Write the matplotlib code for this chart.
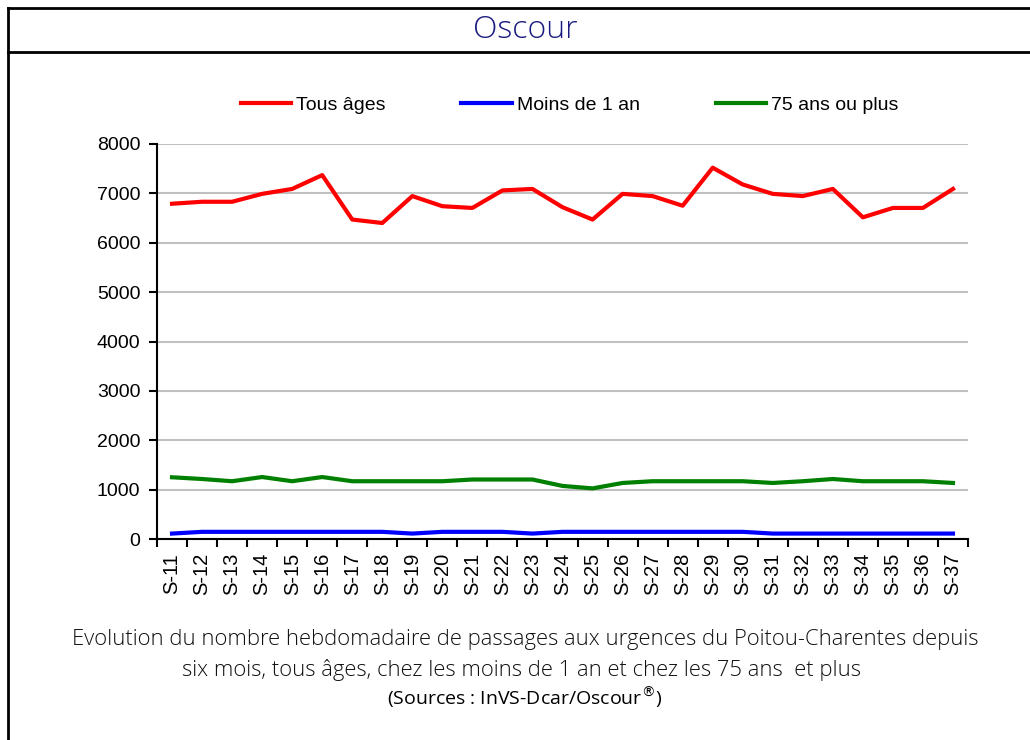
import matplotlib
matplotlib.use("Agg")
import matplotlib.pyplot as plt
from matplotlib.lines import Line2D
import numpy as np

# semaines S-11 .. S-37
semaines = ["S-%d" % s for s in range(11, 38)]

tous_ages = [6790, 6830, 6830, 6990, 7090, 7370, 6470, 6400, 6945, 6740,
             6705, 7060, 7090, 6720, 6470, 6990, 6945, 6750, 7520, 7180,
             6990, 6945, 7090, 6515, 6705, 6705, 7090]
moins_1an = [110, 145, 145, 145, 145, 145, 145, 145, 110, 145,
             145, 145, 110, 145, 145, 145, 145, 145, 145, 145,
             110, 110, 110, 110, 110, 110, 110]
plus_75 = [1250, 1215, 1170, 1255, 1170, 1255, 1170, 1170, 1170, 1170,
           1205, 1205, 1205, 1075, 1025, 1135, 1170, 1170, 1170, 1170,
           1135, 1170, 1215, 1170, 1170, 1170, 1135]

series = [("Tous âges", tous_ages, "#ff0000"),
          ("Moins de 1 an", moins_1an, "#0000ff"),
          ("75 ans ou plus", plus_75, "#008000")]

plt.rcParams['font.family'] = ['Liberation Sans', 'DejaVu Sans']

fig = plt.figure(figsize=(10.3, 7.4), dpi=100)
ax = fig.add_axes([157/1030, 1-539/740, (968-157)/1030, 395/740])

x = np.arange(len(semaines))
handles = []
for nom, vals, col in series:
    h, = ax.plot(x, vals, color=col, lw=3, label=nom, solid_joinstyle='round')
    handles.append(h)

ax.set_ylim(0, 8000)
ax.set_yticks(range(0, 8001, 1000))
ax.set_xlim(-0.5, len(semaines) - 0.5)
ax.set_xticks(x)
ax.set_xticklabels(semaines, rotation=90, fontsize=14.5)
ax.set_xticks(np.arange(-0.5, len(semaines)), minor=True)
ax.tick_params(axis='x', which='major', length=0, pad=10)
ax.tick_params(axis='x', which='minor', length=6, width=1.5, direction='out')
ax.tick_params(axis='y', labelsize=14, length=6, width=1.5, pad=6)
ax.grid(axis='y', color='#c0c0c0', lw=1.5)
ax.set_axisbelow(True)
for s in ['top', 'right']:
    ax.spines[s].set_visible(False)
for s in ['left', 'bottom']:
    ax.spines[s].set_linewidth(1.5)

fig.legend(handles=handles, loc='center', bbox_to_anchor=(0.553, 0.858), ncol=3,
           frameon=False, fontsize=14, handlelength=2.6, columnspacing=3.9,
           handletextpad=0.25)

# cadre
fig.add_artist(Line2D([8/1030, 1], [1-8/740, 1-8/740], color='black', lw=2, transform=fig.transFigure))
fig.add_artist(Line2D([8/1030, 1], [1-52/740, 1-52/740], color='black', lw=2, transform=fig.transFigure))
fig.add_artist(Line2D([8/1030, 8/1030], [0, 1-8/740], color='black', lw=2, transform=fig.transFigure))

titre_font = ['Open Sans', 'DejaVu Sans']
fig.text(525/1030, 1-30/740, "Oscour", ha='center', va='center', fontsize=23,
         color='#1a1a80', family=titre_font, fontweight='light')

fig.text(525/1030, 1-640/740, "Evolution du nombre hebdomadaire de passages aux urgences du Poitou-Charentes depuis",
         ha='center', va='center', fontsize=15.8, family=titre_font, fontweight='light', color='#111111')
fig.text(521/1030, 1-670/740, "six mois, tous âges, chez les moins de 1 an et chez les 75 ans  et plus",
         ha='center', va='center', fontsize=15.8, family=titre_font, fontweight='light', color='#111111')
fig.text(525/1030, 1-697/740, r"(Sources : InVS-Dcar/Oscour$^{®}$)",
         ha='center', va='center', fontsize=14, family=titre_font, color='black')

fig.savefig("out.png", dpi=100)
